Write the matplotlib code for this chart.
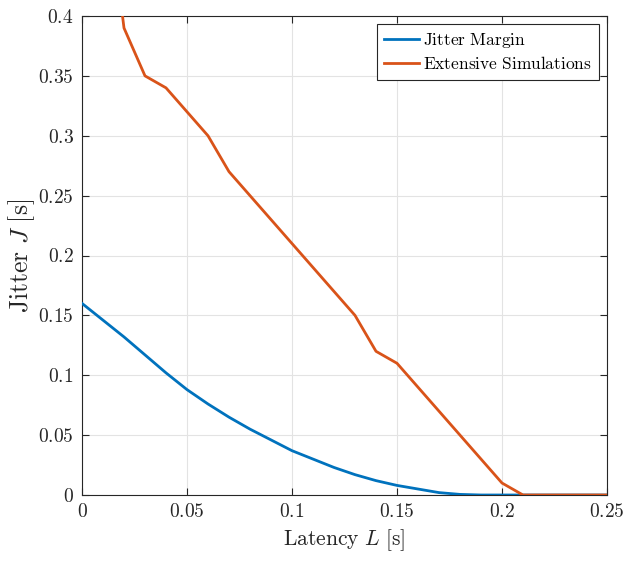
import matplotlib
matplotlib.use("Agg")
import matplotlib.pyplot as plt
from matplotlib.ticker import FixedLocator, FixedFormatter

plt.rcParams['mathtext.fontset'] = 'cm'
plt.rcParams['font.family'] = 'serif'
plt.rcParams['font.serif'] = ['DejaVu Serif']

# Jitter Margin (blue)
jm_latency = [0.0, 0.01, 0.02, 0.03, 0.04, 0.05, 0.06, 0.07, 0.08, 0.09, 0.10,
              0.11, 0.12, 0.13, 0.14, 0.15, 0.16, 0.17, 0.18, 0.19, 0.20, 0.21,
              0.22, 0.23, 0.24, 0.25]
jm_jitter = [0.160, 0.146, 0.132, 0.117, 0.102, 0.088, 0.076, 0.065, 0.055, 0.046, 0.037,
             0.030, 0.023, 0.017, 0.012, 0.008, 0.005, 0.002, 0.0005, 0.0, 0.0, 0.0,
             0.0, 0.0, 0.0, 0.0]

# Extensive Simulations (orange)
es_latency = [0.01, 0.02, 0.03, 0.04, 0.06, 0.07, 0.13, 0.14, 0.15, 0.20, 0.21, 0.25]
es_jitter = [0.53, 0.39, 0.35, 0.34, 0.30, 0.27, 0.15, 0.12, 0.11, 0.01, 0.0, 0.0]

x_ticks = [0, 0.05, 0.1, 0.15, 0.2, 0.25]
x_labels = ['0', '0.05', '0.1', '0.15', '0.2', '0.25']
y_ticks = [0, 0.05, 0.1, 0.15, 0.2, 0.25, 0.3, 0.35, 0.4]
y_labels = ['0', '0.05', '0.1', '0.15', '0.2', '0.25', '0.3', '0.35', '0.4']

fig = plt.figure(figsize=(6.41, 5.61), dpi=100)
ax = fig.add_axes([82/641, 66/561, 525/641, 479/561])

ax.plot(jm_latency, jm_jitter, color='#0072BD', lw=2, label=r'$\mathrm{Jitter\ Margin}$', zorder=3)
ax.plot(es_latency, es_jitter, color='#D95319', lw=2, label=r'$\mathrm{Extensive\ Simulations}$', zorder=4)

ax.set_xlim(0, 0.25)
ax.set_ylim(0, 0.4)
ax.xaxis.set_major_locator(FixedLocator(x_ticks))
ax.xaxis.set_major_formatter(FixedFormatter([r'$%s$' % s for s in x_labels]))
ax.yaxis.set_major_locator(FixedLocator(y_ticks))
ax.yaxis.set_major_formatter(FixedFormatter([r'$%s$' % s for s in y_labels]))

ax.grid(True, color='#e3e3e3', lw=0.8)
ax.set_axisbelow(True)
ax.tick_params(direction='in', top=True, right=True, labelsize=14, colors='#262626',
               length=5, width=0.8, pad=6)
for s in ax.spines.values():
    s.set_color('#262626')
    s.set_linewidth(0.8)

ax.set_xlabel(r'$\mathrm{Latency}\ L\ [\mathrm{s}]$', fontsize=15.5, color='#262626', labelpad=4)
ax.set_ylabel(r'$\mathrm{Jitter}\ J\ [\mathrm{s}]$', fontsize=18.5, color='#262626')
ax.yaxis.set_label_coords(-0.0857, 0.5)

leg = ax.legend(loc='upper right', fontsize=12.5, fancybox=False, framealpha=1,
                edgecolor='#262626', handlelength=2.05, borderaxespad=0.45,
                borderpad=0.4, labelspacing=0.35, handletextpad=0.25)
leg.get_frame().set_linewidth(0.8)

fig.savefig('out.png', dpi=100)
